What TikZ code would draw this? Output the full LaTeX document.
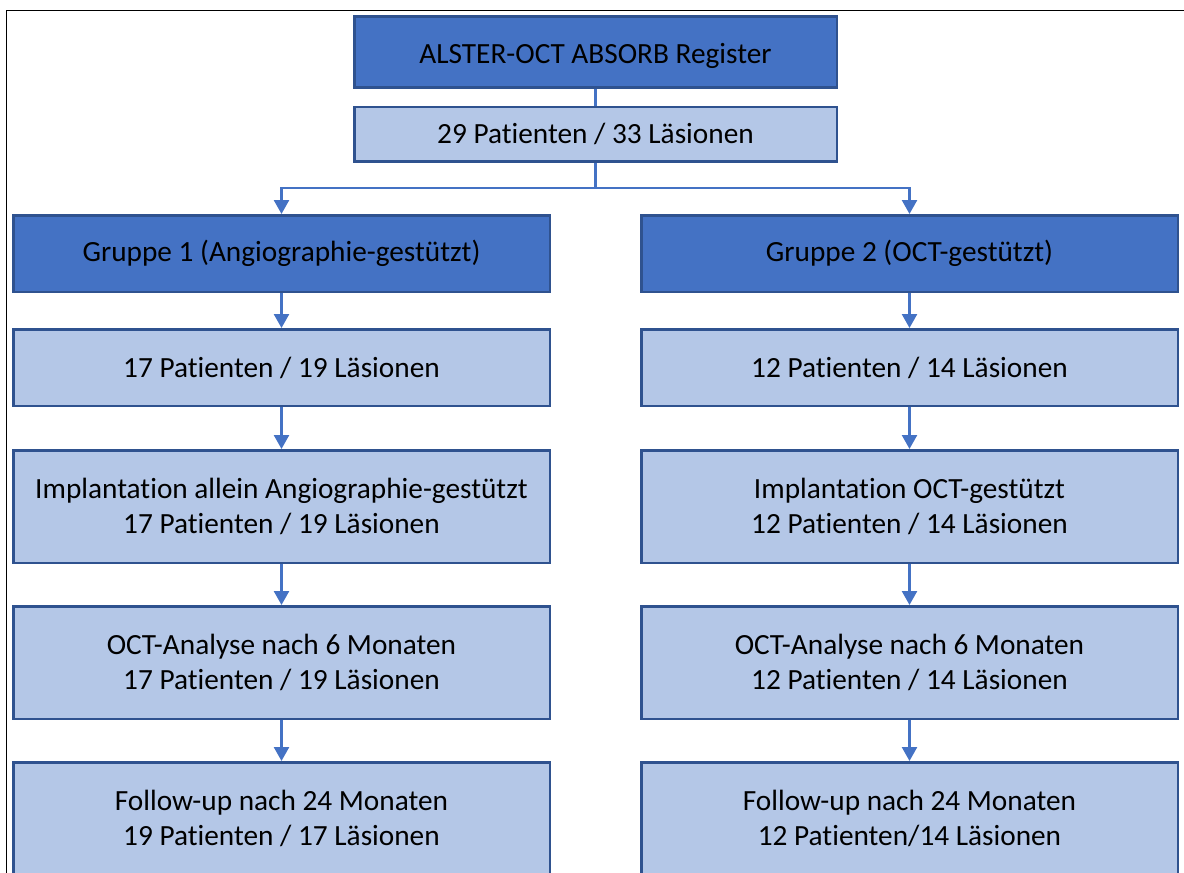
\documentclass[tikz,border=0pt]{standalone}
\usepackage{fontspec}
\setmainfont{Carlito}[Ligatures=NoCommon]
\usetikzlibrary{positioning,arrows.meta}
\definecolor{darkblue}{RGB}{68,114,196}
\definecolor{lightblue}{RGB}{180,199,231}
\definecolor{edgeblue}{RGB}{47,82,143}
\tikzset{>={Triangle[width=15pt,length=14pt]}}
\tikzset{
  box/.style={draw=edgeblue,line width=2.5pt,inner sep=0pt,align=center,
    font=\fontsize{29.3}{35}\selectfont,text=black},
  headbox/.style={box,fill=darkblue},
  infobox/.style={box,fill=lightblue},
  conn/.style={draw=darkblue,line width=2.5pt}
}
\begin{document}
\begin{tikzpicture}[x=1pt,y=-1pt]
  \path[use as bounding box,clip] (0,0) rectangle (1184,873);
  \draw[line width=1.4pt] (6.5,10.5) rectangle (1200,900);
  \node[headbox,minimum width=482.5pt,minimum height=71pt] (reg) at (595.5,52) {\raisebox{-4pt}[\height][\depth]{ALSTER-OCT ABSORB Register}};
  \node[infobox,minimum width=482.5pt,minimum height=54.5pt,below=17pt of reg] (all) {29 Patienten / 33 Läsionen};
  \node[headbox,minimum width=536.5pt,minimum height=76.5pt] (g1) at (281.5,253.5) {Gruppe 1 (Angiographie-gestützt)};
  \node[headbox,minimum width=536.5pt,minimum height=76.5pt] (g2) at (909.5,253.5) {Gruppe 2 (OCT-gestützt)};
  \node[infobox,minimum width=536.5pt,minimum height=76.5pt,below=35pt of g1] (n1) {17 Patienten / 19 Läsionen};
  \node[infobox,minimum width=536.5pt,minimum height=76.5pt,below=35pt of g2] (m1) {12 Patienten / 14 Läsionen};
  \node[infobox,minimum width=536.5pt,minimum height=112.5pt,below=42pt of n1] (n2) {Implantation allein Angiographie-gestützt\\17 Patienten / 19 Läsionen};
  \node[infobox,minimum width=536.5pt,minimum height=112.5pt,below=42pt of m1] (m2) {Implantation OCT-gestützt\\12 Patienten / 14 Läsionen};
  \node[infobox,minimum width=536.5pt,minimum height=112.5pt,below=41pt of n2] (n3) {OCT-Analyse nach 6 Monaten\\17 Patienten / 19 Läsionen};
  \node[infobox,minimum width=536.5pt,minimum height=112.5pt,below=41pt of m2] (m3) {OCT-Analyse nach 6 Monaten\\12 Patienten / 14 Läsionen};
  \node[infobox,minimum width=536.5pt,minimum height=112.5pt,below=41pt of n3] (n4) {Follow-up nach 24 Monaten\\19 Patienten / 17 Läsionen};
  \node[infobox,minimum width=536.5pt,minimum height=112.5pt,below=41pt of m3] (m4) {Follow-up nach 24 Monaten\\12 Patienten/14 Läsionen};
  \draw[conn] (reg) -- (all);
  \draw[conn,->] (all.south) -- ++(0,25) -| (g1.north);
  \draw[conn,->] (all.south) -- ++(0,25) -| (g2.north);
  \draw[conn,->] (g1) -- (n1);
  \draw[conn,->] (n1) -- (n2);
  \draw[conn,->] (n2) -- (n3);
  \draw[conn,->] (n3) -- (n4);
  \draw[conn,->] (g2) -- (m1);
  \draw[conn,->] (m1) -- (m2);
  \draw[conn,->] (m2) -- (m3);
  \draw[conn,->] (m3) -- (m4);
\end{tikzpicture}
\end{document}
